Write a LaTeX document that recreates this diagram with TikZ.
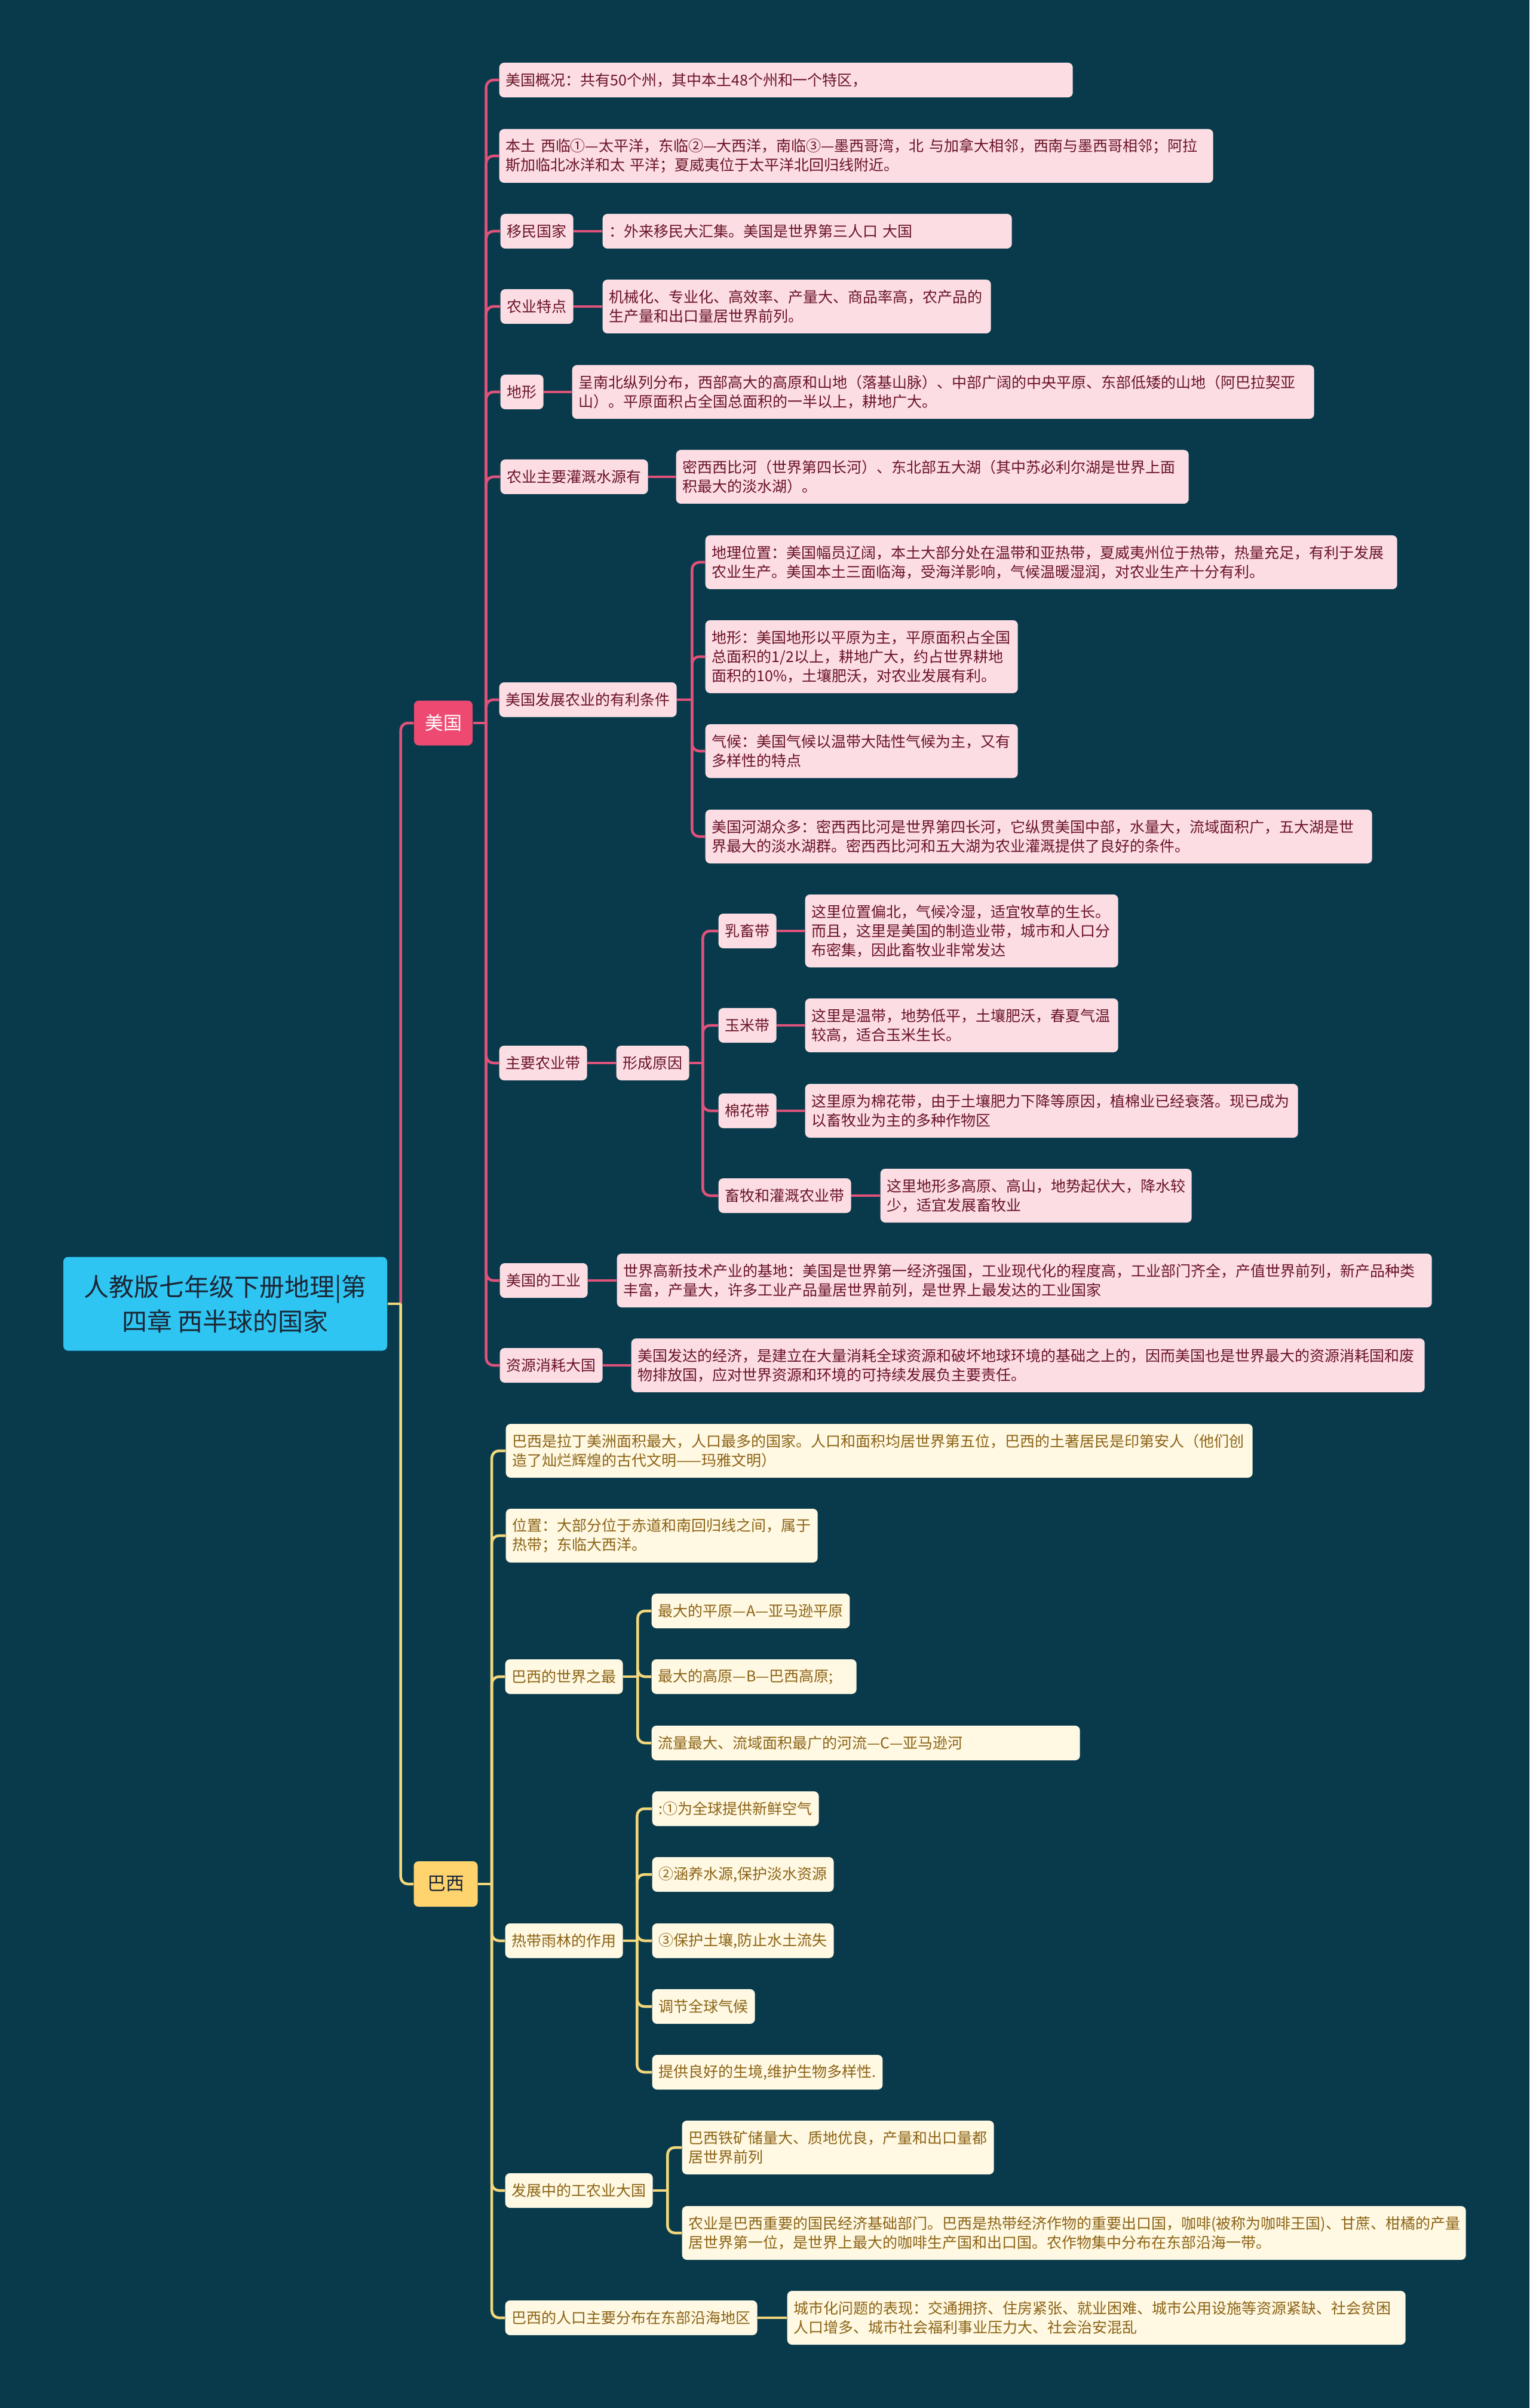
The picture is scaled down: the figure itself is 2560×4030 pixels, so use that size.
\documentclass[tikz,border=0pt]{standalone}
\usepackage{fontspec}
\newfontfamily\cjk{Noto Sans CJK SC}
\usepackage{tikz}
\usetikzlibrary{calc}
\definecolor{bgblue}{HTML}{083A4C}
\definecolor{rootfill}{HTML}{2EC5F2}
\definecolor{roottext}{HTML}{1B2635}
\definecolor{usred}{HTML}{EE4A71}
\definecolor{pinkline}{HTML}{E0527A}
\definecolor{pinkfill}{HTML}{FCDDE3}
\definecolor{pinktext}{HTML}{6B1428}
\definecolor{bryellow}{HTML}{FFD46E}
\definecolor{yellowline}{HTML}{F3D77C}
\definecolor{creamfill}{HTML}{FFF8E2}
\definecolor{creamtext}{HTML}{8C6416}

\begin{document}
\begin{tikzpicture}[x=0.1mm, y=-0.1mm,
    leaf/.style={anchor=west, rounded corners=0.8mm, inner xsep=1.1mm, inner ysep=0mm,
      align=left, minimum height=5.8mm, font=\cjk\fontsize{7.11pt}{9.1pt}\selectfont},
    usleaf/.style={leaf, fill=pinkfill, text=pinktext},
    brleaf/.style={leaf, fill=creamfill, text=creamtext},
    h2/.style={minimum height=9mm},
    h3/.style={minimum height=12.2mm},
    uslink/.style={draw=pinkline, line width=0.45mm},
    brlink/.style={draw=yellowline, line width=0.45mm},
    elbow/.style={rounded corners=1.2mm}]
    % Background
    \fill[bgblue] (0,0) rectangle (2560,4030);
    \useasboundingbox (0,0) rectangle (2560,4030);
    % Root and main branches
    \node[fill=rootfill, text=roottext, rounded corners=0.8mm, align=center,
      minimum width=54.2mm, minimum height=15.7mm,
      font=\cjk\fontsize{11.95pt}{16.5pt}\selectfont] (root) at (377,2182)
      {人教版七年级下册地理|第\\四章 西半球的国家};
    \node[fill=usred, text=white, rounded corners=0.8mm, minimum width=9.8mm,
      minimum height=7.5mm, font=\cjk\fontsize{8.8pt}{10pt}\selectfont] (us) at (742,1210) {美国};
    \node[fill=bryellow, text=roottext, rounded corners=0.8mm, minimum width=10.7mm,
      minimum height=7.6mm, font=\cjk\fontsize{8.8pt}{10pt}\selectfont] (br) at (746,3153) {巴西};

    % USA
    \node[usleaf, text width=93.8mm] (u1) at (835,134) {美国概况：共有50个州，其中本土48个州和一个特区，};
    \node[usleaf, h2, text width=117.3mm] (u2) at (835,261)
      {本土 西临①—太平洋，东临②—大西洋，南临③—墨西哥湾，北 与加拿大相邻，西南与墨西哥相邻；阿拉\\斯加临北冰洋和太 平洋；夏威夷位于太平洋北回归线附近。};
    \node[usleaf] (u3) at (837,387) {移民国家};
    \node[usleaf, text width=66.3mm] (u3a) at (1008,387) {：外来移民大汇集。美国是世界第三人口 大国};
    \node[usleaf] (u4) at (837,513) {农业特点};
    \node[usleaf, h2, text width=62.8mm] (u4a) at (1008,513)
      {机械化、专业化、高效率、产量大、商品率高，农产品的\\生产量和出口量居世界前列。};
    \node[usleaf] (u5) at (837,656) {地形};
    \node[usleaf, h2, text width=122mm] (u5a) at (957,656)
      {呈南北纵列分布，西部高大的高原和山地（落基山脉）、中部广阔的中央平原、东部低矮的山地（阿巴拉契亚\\山）。平原面积占全国总面积的一半以上，耕地广大。};
    \node[usleaf] (u6) at (837,798) {农业主要灌溉水源有};
    \node[usleaf, h2, text width=83.6mm] (u6a) at (1131,798)
      {密西西比河（世界第四长河）、东北部五大湖（其中苏必利尔湖是世界上面\\积最大的淡水湖）。};
    \node[usleaf] (u7) at (835,1171) {美国发展农业的有利条件};
    \node[usleaf, h2, text width=113.6mm] (u7a) at (1180,941)
      {地理位置：美国幅员辽阔，本土大部分处在温带和亚热带，夏威夷州位于热带，热量充足，有利于发展\\农业生产。美国本土三面临海，受海洋影响，气候温暖湿润，对农业生产十分有利。};
    \node[usleaf, h3, text width=50.1mm] (u7b) at (1180,1099)
      {地形：美国地形以平原为主，平原面积占全国\\总面积的1/2以上，耕地广大，约占世界耕地\\面积的10\%，土壤肥沃，对农业发展有利。};
    \node[usleaf, h2, text width=50.1mm] (u7c) at (1180,1257)
      {气候：美国气候以温带大陆性气候为主，又有\\多样性的特点};
    \node[usleaf, h2, text width=109.4mm] (u7d) at (1180,1400)
      {美国河湖众多：密西西比河是世界第四长河，它纵贯美国中部，水量大，流域面积广，五大湖是世\\界最大的淡水湖群。密西西比河和五大湖为农业灌溉提供了良好的条件。};
    \node[usleaf] (u8) at (835,1779) {主要农业带};
    \node[usleaf] (u8a) at (1031,1779) {形成原因};
    \node[usleaf] (milk) at (1202,1558) {乳畜带};
    \node[usleaf, h3, text width=50.2mm] (milkx) at (1347,1558)
      {这里位置偏北，气候冷湿，适宜牧草的生长。\\而且，这里是美国的制造业带，城市和人口分\\布密集，因此畜牧业非常发达};
    \node[usleaf] (corn) at (1202,1716) {玉米带};
    \node[usleaf, h2, text width=50.2mm] (cornx) at (1347,1716)
      {这里是温带，地势低平，土壤肥沃，春夏气温\\较高，适合玉米生长。};
    \node[usleaf] (cotton) at (1202,1859) {棉花带};
    \node[usleaf, h2, text width=80.3mm] (cottonx) at (1347,1859)
      {这里原为棉花带，由于土壤肥力下降等原因，植棉业已经衰落。现已成为\\以畜牧业为主的多种作物区};
    \node[usleaf] (graze) at (1202,2001) {畜牧和灌溉农业带};
    \node[usleaf, h2, text width=49.9mm] (grazex) at (1473,2001)
      {这里地形多高原、高山，地势起伏大，降水较\\少，适宜发展畜牧业};
    \node[usleaf] (u9) at (836,2143) {美国的工业};
    \node[usleaf, h2, text width=134.2mm] (u9a) at (1032,2143)
      {世界高新技术产业的基地：美国是世界第一经济强国，工业现代化的程度高，工业部门齐全，产值世界前列，新产品种类\\丰富，产量大，许多工业产品量居世界前列，是世界上最发达的工业国家};
    \node[usleaf] (u10) at (836,2285) {资源消耗大国};
    \node[usleaf, h2, text width=130.6mm] (u10a) at (1056,2285)
      {美国发达的经济，是建立在大量消耗全球资源和破坏地球环境的基础之上的，因而美国也是世界最大的资源消耗国和废\\物排放国，应对世界资源和环境的可持续发展负主要责任。};

    % Brazil
    \node[brleaf, h2, text width=122.8mm] (b1) at (846,2428)
      {巴西是拉丁美洲面积最大，人口最多的国家。人口和面积均居世界第五位，巴西的土著居民是印第安人（他们创\\造了灿烂辉煌的古代文明——玛雅文明）};
    \node[brleaf, h2, text width=50mm] (b2) at (846,2570)
      {位置：大部分位于赤道和南回归线之间，属于\\热带；东临大西洋。};
    \node[brleaf] (b3) at (845,2806) {巴西的世界之最};
    \node[brleaf] (b3a) at (1090,2696) {最大的平原—A—亚马逊平原};
    \node[brleaf, text width=32.1mm] (b3b) at (1090,2806) {最大的高原—B—巴西高原;};
    \node[brleaf, text width=69.5mm] (b3c) at (1090,2917) {流量最大、流域面积最广的河流—C—亚马逊河};
    \node[brleaf] (b4) at (845,3248) {热带雨林的作用};
    \node[brleaf] (b4a) at (1091,3027) {:①为全球提供新鲜空气};
    \node[brleaf] (b4b) at (1091,3137) {②涵养水源,保护淡水资源};
    \node[brleaf] (b4c) at (1091,3248) {③保护土壤,防止水土流失};
    \node[brleaf] (b4d) at (1091,3358) {调节全球气候};
    \node[brleaf] (b4e) at (1091,3468) {提供良好的生境,维护生物多样性.};
    \node[brleaf] (b5) at (845,3666) {发展中的工农业大国};
    \node[brleaf, h2, text width=50mm] (b5a) at (1141,3594)
      {巴西铁矿储量大、质地优良，产量和出口量都\\居世界前列};
    \node[brleaf, h2, text width=129mm] (b5b) at (1141,3737)
      {农业是巴西重要的国民经济基础部门。巴西是热带经济作物的重要出口国，咖啡(被称为咖啡王国)、甘蔗、柑橘的产量\\居世界第一位，是世界上最大的咖啡生产国和出口国。农作物集中分布在东部沿海一带。};
    \node[brleaf] (b6) at (845,3879) {巴西的人口主要分布在东部沿海地区};
    \node[brleaf, h2, text width=101.3mm] (b6a) at (1317,3879)
      {城市化问题的表现：交通拥挤、住房紧张、就业困难、城市公用设施等资源紧缺、社会贫困\\人口增多、城市社会福利事业压力大、社会治安混乱};

    % Trunk points
    \coordinate (rootT) at ($(root.east)+(22,0)$);
    \coordinate (usT) at ($(us.east)+(22,0)$);
    \coordinate (u7T) at ($(u7.east)+(25,0)$);
    \coordinate (u8T) at ($(u8a.east)+(22,0)$);
    \coordinate (brT) at ($(br.east)+(23,0)$);
    \coordinate (b3T) at ($(b3.east)+(24,0)$);
    \coordinate (b4T) at ($(b4.east)+(23,0)$);
    \coordinate (b5T) at ($(b5.east)+(24,0)$);

    % Links of the USA branch
    \draw[uslink] (root.east) -- (rootT);
    \draw[uslink, elbow] (us.west) -| (rootT);
    \draw[uslink] (us.east) -- (usT);
    \foreach \n in {u1,u2,u3,u4,u5,u6,u7,u8,u9,u10}
      \draw[uslink, elbow] (\n.west) -| (usT);
    \foreach \n in {u3,u4,u5,u6,u8,u9,u10}
      \draw[uslink] (\n.east) -- (\n a.west);
    \draw[uslink] (u7.east) -- (u7T);
    \foreach \n in {u7a,u7b,u7c,u7d}
      \draw[uslink, elbow] (\n.west) -| (u7T);
    \draw[uslink] (u8a.east) -- (u8T);
    \foreach \n in {milk,corn,cotton,graze} {
      \draw[uslink, elbow] (\n.west) -| (u8T);
      \draw[uslink] (\n.east) -- (\n x.west);
    }

    % Links of the Brazil branch
    \draw[brlink] (root.east) -- (rootT);
    \draw[brlink, elbow] (br.west) -| (rootT);
    \draw[brlink] (br.east) -- (brT);
    \foreach \n in {b1,b2,b3,b4,b5,b6}
      \draw[brlink, elbow] (\n.west) -| (brT);
    \draw[brlink] (b3.east) -- (b3T);
    \foreach \n in {b3a,b3b,b3c}
      \draw[brlink, elbow] (\n.west) -| (b3T);
    \draw[brlink] (b4.east) -- (b4T);
    \foreach \n in {b4a,b4b,b4c,b4d,b4e}
      \draw[brlink, elbow] (\n.west) -| (b4T);
    \draw[brlink] (b5.east) -- (b5T);
    \foreach \n in {b5a,b5b}
      \draw[brlink, elbow] (\n.west) -| (b5T);
    \draw[brlink] (b6.east) -- (b6a.west);
  \end{tikzpicture}
\end{document}
